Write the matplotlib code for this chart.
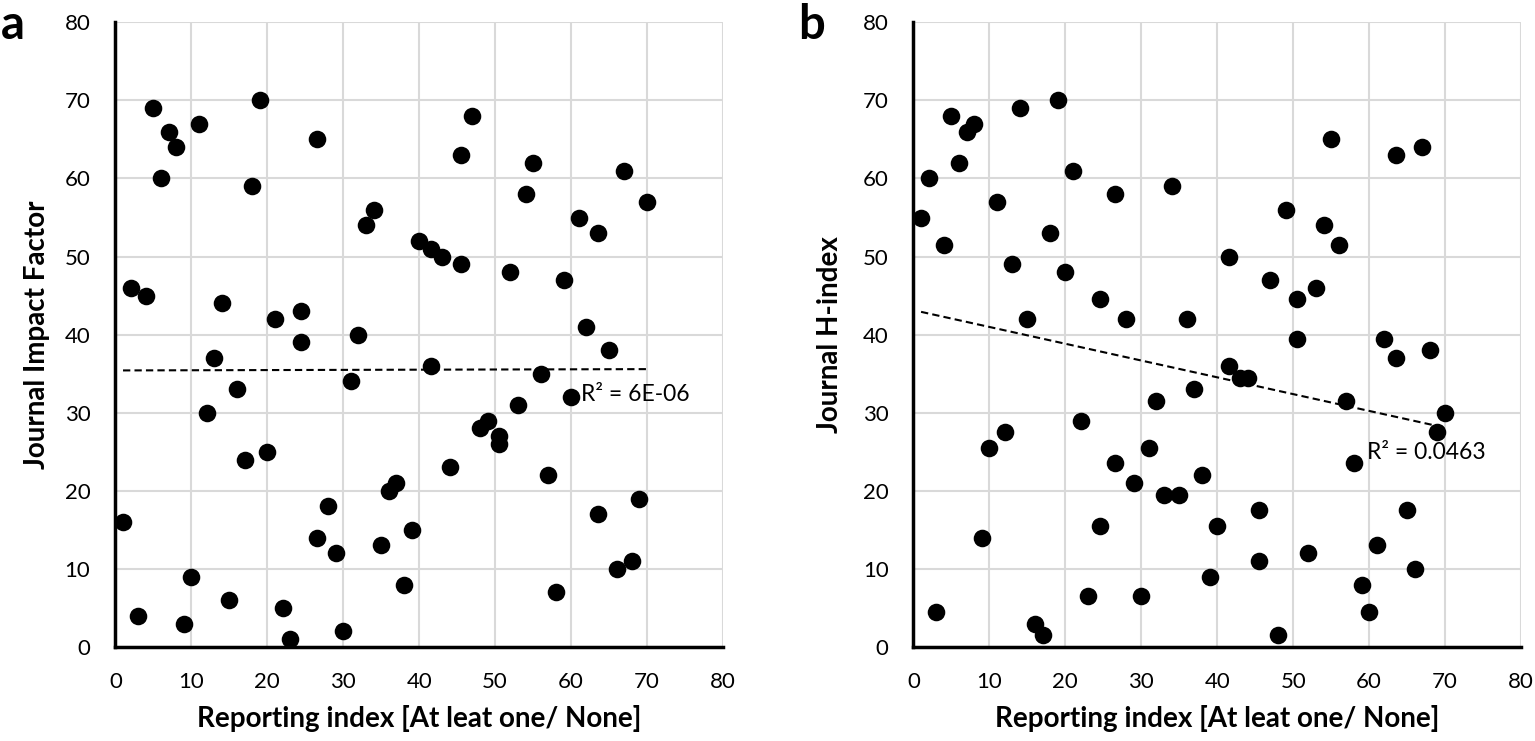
import numpy as np
import matplotlib.pyplot as plt

plt.rcParams['font.family'] = ['Lato', 'DejaVu Sans']

# panel a: reporting index vs journal impact factor (rank)
rep_a = [1, 2, 3, 4, 5, 6, 7, 8, 9, 10, 11, 12, 13, 14, 15, 16, 17, 18, 19, 20,
         21, 22, 23, 24.5, 24.5, 26.5, 26.5, 28, 29, 30, 31, 32, 33, 34, 35, 36,
         37, 38, 39, 40, 41.5, 41.5, 43, 44, 45.5, 45.5, 47, 48, 49, 50.5, 50.5,
         52, 53, 54, 55, 56, 57, 58, 59, 60, 61, 62, 63.5, 63.5, 65, 66, 67, 68,
         69, 70]
jif = [16, 46, 4, 45, 69, 60, 66, 64, 3, 9, 67, 30, 37, 44, 6, 33, 24, 59, 70, 25,
       42, 5, 1, 43, 39, 65, 14, 18, 12, 2, 34, 40, 54, 56, 13, 20,
       21, 8, 15, 52, 51, 36, 50, 23, 63, 49, 68, 28, 29, 27, 26,
       48, 31, 58, 62, 35, 22, 7, 47, 32, 55, 41, 53, 17, 38, 10, 61, 11,
       19, 57]

# panel b: reporting index vs journal H-index (rank)
rep_b = [1, 2, 3, 4, 5, 6, 7, 8, 9, 10, 11, 12, 13, 14, 15, 16, 17, 18, 19, 20,
         21, 22, 23, 24.5, 24.5, 26.5, 26.5, 28, 29, 30, 31, 32, 33, 34, 35, 36,
         37, 38, 39, 40, 41.5, 41.5, 43, 44, 45.5, 45.5, 47, 48, 49, 50.5, 50.5,
         52, 53, 54, 55, 56, 57, 58, 59, 60, 61, 62, 63.5, 63.5, 65, 66, 67, 68,
         69, 70]
hidx = [55, 60, 4.5, 51.5, 68, 62, 66, 67, 14, 25.5, 57, 27.5, 49, 69, 42, 3, 1.5,
        53, 70, 48, 61, 29, 6.5, 44.5, 15.5, 58, 23.5, 42, 21, 6.5, 25.5, 31.5,
        19.5, 59, 19.5, 42, 33, 22, 9, 15.5, 50, 36, 34.5, 34.5, 17.5, 11, 47,
        1.5, 56, 44.5, 39.5, 12, 46, 54, 65, 51.5, 31.5, 23.5, 8, 4.5, 13, 39.5,
        63, 37, 17.5, 10, 64, 38, 27.5, 30]

xlabel = "Reporting index [At leat one/ None]"
panels = [
    (rep_a, jif, "Journal Impact Factor", "a", "R\u00b2 = 6E-06", (61.3, 32.3), -0.108),
    (rep_b, hidx, "Journal H-index", "b", "R\u00b2 = 0.0463", (59.7, 24.9), -0.116),
]

fig = plt.figure(figsize=(15.35, 7.41), dpi=100)
lefts = [0.0752, 0.5951]

for left, (x, y, ylab, letter, r2txt, r2pos, ylx) in zip(lefts, panels):
    ax = fig.add_axes([left, 0.1269, 0.3958, 0.843])
    ax.scatter(x, y, s=160, color='black', zorder=3, linewidths=0)

    # linear trendline over data range
    x = np.array(x)
    y = np.array(y)
    k, b = np.polyfit(x, y, 1)
    xx = np.array([x.min(), x.max()])
    ax.plot(xx, k * xx + b, color='black', ls=(0, (3.5, 2)), lw=1.5, zorder=2)
    ax.text(r2pos[0], r2pos[1], r2txt, fontsize=16.5, va='center', ha='left')

    ax.set_xlim(0, 80)
    ax.set_ylim(0, 80)
    ax.set_xticks(range(0, 81, 10))
    ax.set_yticks(range(0, 81, 10))
    ax.grid(True, color='#d9d9d9', lw=1.5)
    ax.set_axisbelow(True)
    ax.tick_params(length=0, labelsize=16, pad=18)
    for s in ['top', 'right']:
        ax.spines[s].set_visible(False)
    for s in ['left', 'bottom']:
        ax.spines[s].set_linewidth(2.5)
        ax.spines[s].set_zorder(4)
    ax.set_xlabel(xlabel, fontsize=20, fontweight='bold')
    ax.set_ylabel(ylab, fontsize=20, fontweight='bold')
    ax.xaxis.set_label_coords(0.5, -0.093)
    ax.yaxis.set_label_coords(ylx, 0.5)
    fig.text(left - 0.0665, 0.966, letter, fontsize=34, fontweight='bold',
             va='center', ha='center')

fig.savefig('out.png', dpi=100)
